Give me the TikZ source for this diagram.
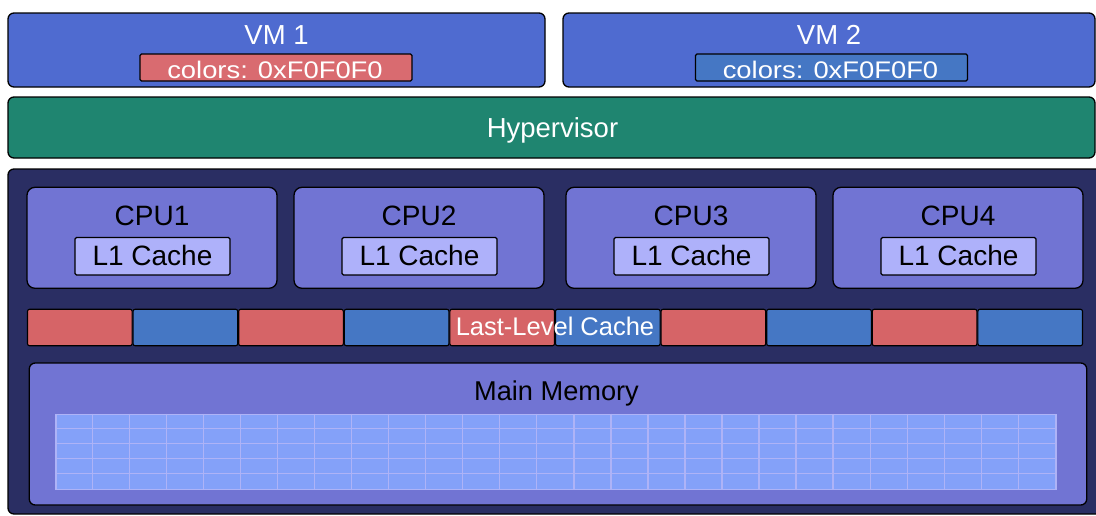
\documentclass[tikz,border=0pt]{standalone}
\usepackage{fontspec}
\setmainfont{Liberation Sans}
\usetikzlibrary{calc}
\definecolor{vmblue}{HTML}{4F6BD0}
\definecolor{hvgreen}{HTML}{1F8570}
\definecolor{hwnavy}{HTML}{2A2E63}
\definecolor{cpufill}{HTML}{7174D3}
\definecolor{lonefill}{HTML}{AEB1FA}
\definecolor{llcred}{HTML}{D66467}
\definecolor{llcblue}{HTML}{4577C4}
\definecolor{tagred}{HTML}{D96B70}
\definecolor{gridfill}{HTML}{84A1F9}
\definecolor{gridline}{HTML}{AEB3F7}
\begin{document}
\begin{tikzpicture}[x=1pt,y=-1pt,
  box/.style={draw=black, line width=1.3pt, rounded corners=6pt, inner sep=0pt},
  cpubox/.style={box, fill=cpufill, rounded corners=8pt, minimum width=250pt, minimum height=101pt},
  l1box/.style={box, fill=lonefill, rounded corners=1.5pt, minimum width=155pt, minimum height=37.5pt},
  tagbox/.style={box, rounded corners=1.5pt, minimum width=272pt, minimum height=27pt},
  llcseg/.style={box, rounded corners=2pt, line width=1.1pt, minimum width=104.6pt, minimum height=36.5pt},
  lbl/.style={anchor=base, inner sep=0pt, font=\fontsize{27.5}{30}\selectfont},
  wlbl/.style={lbl, text=white},
  blbl/.style={lbl, text=black}]
\useasboundingbox (0,0) rectangle (1096,515);
\begin{scope}
\clip (0,0) rectangle (1096,515);

% virtual machines
\node[box, fill=vmblue, minimum width=537pt, minimum height=74pt] (vm1) at (276.5,50) {};
\node[box, fill=vmblue, minimum width=532pt, minimum height=74pt] (vm2) at (829,50) {};
\node[wlbl] (vm1t) at (276.5,44.3) {VM 1};
\node[wlbl] (vm2t) at (829,44.3) {VM 2};
\node[tagbox, fill=tagred] (tag1) at (276,67.5) {};
\node[tagbox, fill=llcblue] (tag2) at (831.5,67.5) {};
\node[wlbl, font=\fontsize{24}{26}\selectfont] (tag1t) at (275,78.5) {\scalebox{1.14}[1]{colors: 0xF0F0F0}};
\node[wlbl, font=\fontsize{24}{26}\selectfont] (tag2t) at (830.5,78.5) {\scalebox{1.14}[1]{colors: 0xF0F0F0}};

% hypervisor
\node[box, fill=hvgreen, minimum width=1087pt, minimum height=61pt] (hv) at (551.5,127.5) {};
\node[wlbl] (hvt) at (552.5,137.3) {Hypervisor};

% hardware
\node[box, fill=hwnavy, minimum width=1096pt, minimum height=345pt] (hw) at (556,341.5) {};

\foreach \n/\cx in {1/152,2/419,3/691,4/958}{
  \node[cpubox] (cpu\n) at (\cx,237.8) {};
  \node[blbl, font=\fontsize{28}{30}\selectfont] (cpu\n t) at (\cx,225) {CPU\n};
  \node[l1box] (l1\n) at (\cx+0.5,256.2) {};
  \node[blbl, font=\fontsize{28}{30}\selectfont] (l1\n t) at (\cx+0.5,265.7) {L1 Cache};
}

% last-level cache, coloured by partition
\foreach \i/\c in {0/llcred,1/llcblue,2/llcred,3/llcblue,4/llcred,5/llcblue,6/llcred,7/llcblue,8/llcred,9/llcblue}{
  \node[llcseg, fill=\c] (llc\i) at (27+105.6*\i+52.8,327.5) {};
}
\node[wlbl, font=\fontsize{25.5}{28}\selectfont] (llct) at (555,335.5) {Last-Level Cache};

% main memory
\node[box, fill=cpufill, minimum width=1057.5pt, minimum height=142pt] (mem) at (558,434) {};
\node[blbl, font=\fontsize{27.2}{30}\selectfont] (memt) at (556.5,400.7) {Main Memory};
\node[fill=gridfill, draw=gridline, line width=1.3pt, inner sep=0pt, minimum width=1000pt, minimum height=75pt] (grid) at (556,451.8) {};
\foreach \k in {1,...,26}{
  \draw[gridline, line width=1.3pt] ($(grid.north west)+(37.037*\k,0)$) -- ($(grid.south west)+(37.037*\k,0)$);
}
\foreach \r in {1,...,4}{
  \draw[gridline, line width=1.3pt] ($(grid.north west)+(0,15*\r)$) -- ($(grid.north east)+(0,15*\r)$);
}
\end{scope}
\end{tikzpicture}
\end{document}
